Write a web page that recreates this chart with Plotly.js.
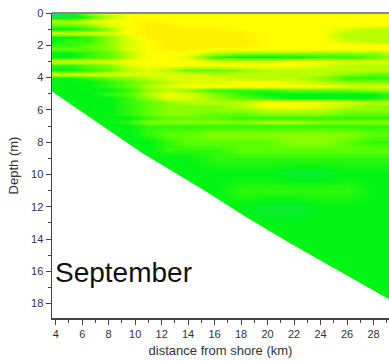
<!DOCTYPE html>
<html>
<head>
<meta charset="utf-8">
<script src="https://cdn.plot.ly/plotly-3.0.1.min.js"></script>
<style>html,body{margin:0;padding:0;background:#fff;}#chart{width:389px;height:361px;}</style>
</head>
<body>
<div id="chart"></div>
<script>
// distance from shore (km) columns
var distKm = [3.7, 5, 6.5, 8, 9.5, 11, 12.5, 14, 16, 18, 20, 22, 24, 26, 28, 29.2];
// depth rows (m)
var depthM = [0, 0.25, 0.5, 0.75, 1.0, 1.25, 1.5, 1.75, 2.0, 2.25, 2.5, 2.75, 3.0, 3.25, 3.5, 3.75,
              4.0, 4.25, 4.5, 4.75, 5.0, 5.25, 5.5, 5.75, 6.0, 6.25, 6.5, 6.75, 7.0, 7.5, 8.0, 8.5,
              9.0, 10, 11, 12, 13, 14, 16, 18, 19];
// relative level (0 teal ... 2 green ... 8 yellow ... 10 gold)
var level = [
  [1,2,5,7,8,8,8,8,8,8,8,8,8,8,8,8],
  [1,1,3,6,8,8,8,8,8,8,8,8,8,8,8,8],
  [6,6,7,8,8,9,8,8,8,8,8,8,8,8,8,8],
  [4,4,5,7,8,9,9,8,8,8,8,8,8,8,8,8],
  [2,2,3,5,8,9,9,9,9,8,8,8,8,7,6,6],
  [7,7,7,7,8,9,9,9,9,9,8,8,8,6,6,6],
  [2,2,3,5,7,9,9,9,9,9,8,8,8,6,6,6],
  [2,3,3,5,7,8,9,9,9,9,8,8,8,7,6,6],
  [3,3,4,5,7,8,9,9,9,9,8,8,8,8,8,8],
  [4,4,4,5,7,8,9,9,8,8,8,8,8,8,8,8],
  [2,2,3,4,6,8,8,8,6,5,5,5,5,5,5,6],
  [2,2,3,4,6,8,8,7,3,2,2,2,3,3,4,5],
  [7,7,7,7,8,8,8,8,7,7,7,8,8,7,7,7],
  [3,3,4,5,7,8,8,8,8,8,8,8,7,6,6,6],
  [2,2,3,4,6,7,6,4,4,5,6,6,6,6,6,6],
  [7,7,7,7,7,7,7,7,6,6,6,6,6,5,4,4],
  [2,2,3,4,5,6,7,7,7,6,6,6,5,3,3,3],
  [2,2,2,3,4,5,6,7,7,8,8,7,6,5,5,5],
  [2,2,2,3,4,6,7,8,8,8,8,8,8,7,7,7],
  [2,2,2,2,3,5,6,5,3,3,3,4,4,4,5,5],
  [2,2,2,3,4,6,8,7,5,3,2,2,2,2,2,3],
  [2,2,2,2,3,5,7,7,5,4,3,2,2,2,2,3],
  [2,2,2,2,3,4,5,6,6,6,8,8,8,7,6,6],
  [2,2,2,2,3,4,5,5,5,6,8,8,7,6,5,5],
  [2,2,2,2,3,4,5,5,5,5,6,6,6,5,5,5],
  [2,2,2,2,3,4,5,5,4,4,5,5,5,4,4,4],
  [2,2,2,2,2,3,4,4,4,3,3,3,3,3,3,3],
  [2,2,2,2,3,5,5,5,5,5,6,6,5,5,5,5],
  [2,2,2,2,2,3,3,3,3,3,3,3,3,3,3,3],
  [2,2,2,2,2,3,4,4,5,5,5,5,5,5,4,4],
  [2,2,2,2,2,2,3,4,4,4,4,5,5,4,3,3],
  [2,2,2,2,2,2,3,3,3,4,4,4,4,4,4,4],
  [2,2,2,2,2,2,2,2,3,3,3,3,3,3,3,3],
  [2,2,2,2,2,2,2,2,2,2,2,1.5,1.5,2,2,2],
  [2,2,2,2,2,2,2,2,2,3,3,3,3,3,2,2],
  [2,2,2,2,2,2,2,2,2,2,1.5,1.5,2,2,2,2],
  [2,2,2,2,2,2,2,2,2,2,2,2,2,2,2,2],
  [2,2,2,2,2,2,2,2,2,2,2,2,2,2,2,2],
  [2,2,2,2,2,2,2,2,2,2,2,2,2,2,2,2],
  [2,2,2,2,2,2,2,2,2,2,2,2,2,2,2,2],
  [2,2,2,2,2,2,2,2,2,2,2,2,2,2,2,2]
];
// sea bottom (bathymetry)
var bottomX = [3.7, 6.8, 10.5, 15.35, 18.5, 21.8, 25.5, 29.2];
var bottomD = [4.85, 6.6, 8.65, 11.05, 12.7, 14.3, 16.0, 17.75];
var monthLabel = "September";

var maskX = bottomX.concat([29.2, 3.7]);
var maskY = bottomD.concat([19.5, 19.5]);

var traces = [
  {
    type: 'heatmap', x: distKm, y: depthM, z: level, zsmooth: 'best',
    zmin: 0, zmax: 10, showscale: false, hoverinfo: 'skip',
    colorscale: [[0,'#30d8a0'],[0.2,'#00f414'],[0.4,'#5cff00'],[0.6,'#b8ff00'],[0.8,'#ffff00'],[1,'#ffe000']]
  },
  {
    type: 'scatter', mode: 'lines', x: maskX, y: maskY, fill: 'toself',
    fillcolor: '#ffffff', line: {width: 0, color: '#ffffff'}, hoverinfo: 'skip', showlegend: false
  }
];

var axisFont = {family: 'Arial, Liberation Sans, sans-serif', size: 11, color: '#333'};
var titleFont = {family: 'Arial, Liberation Sans, sans-serif', size: 13, color: '#333'};
var layout = {
  width: 389, height: 361,
  margin: {l: 52, r: 0, t: 13, b: 43},
  paper_bgcolor: '#fff', plot_bgcolor: '#fff',
  showlegend: false,
  xaxis: {
    range: [3.72, 29.17], dtick: 2, tick0: 0, ticks: 'outside', ticklen: 5, tickwidth: 1,
    tickcolor: '#444', showline: true, linecolor: '#444', linewidth: 1.5,
    showgrid: false, zeroline: false, tickfont: axisFont,
    minor: {dtick: 1, ticks: 'outside', ticklen: 3, tickcolor: '#444', showgrid: false},
    title: {text: 'distance from shore (km)', font: titleFont, standoff: 7}
  },
  yaxis: {
    range: [18.89, 0], dtick: 2, tick0: 0, ticks: 'outside', ticklen: 5, tickwidth: 1,
    tickcolor: '#444', showline: true, linecolor: '#444', linewidth: 1.5,
    showgrid: false, zeroline: false, tickfont: axisFont,
    minor: {dtick: 1, ticks: 'outside', ticklen: 3, tickcolor: '#444', showgrid: false},
    title: {text: 'Depth (m)', font: titleFont, standoff: 9}
  },
  shapes: [
    {type: 'line', xref: 'paper', yref: 'paper', x0: 0, x1: 1, y0: 1, y1: 1,
     line: {color: '#888', width: 2}}
  ],
  annotations: [
    {text: monthLabel, x: 3.82, y: 16.05, xref: 'x', yref: 'y', xanchor: 'left', yanchor: 'middle',
     showarrow: false, font: {family: 'Arial, Liberation Sans, sans-serif', size: 28, color: '#111'}}
  ]
};

Plotly.newPlot('chart', traces, layout, {staticPlot: true, displayModeBar: false});
</script>
</body>
</html>
